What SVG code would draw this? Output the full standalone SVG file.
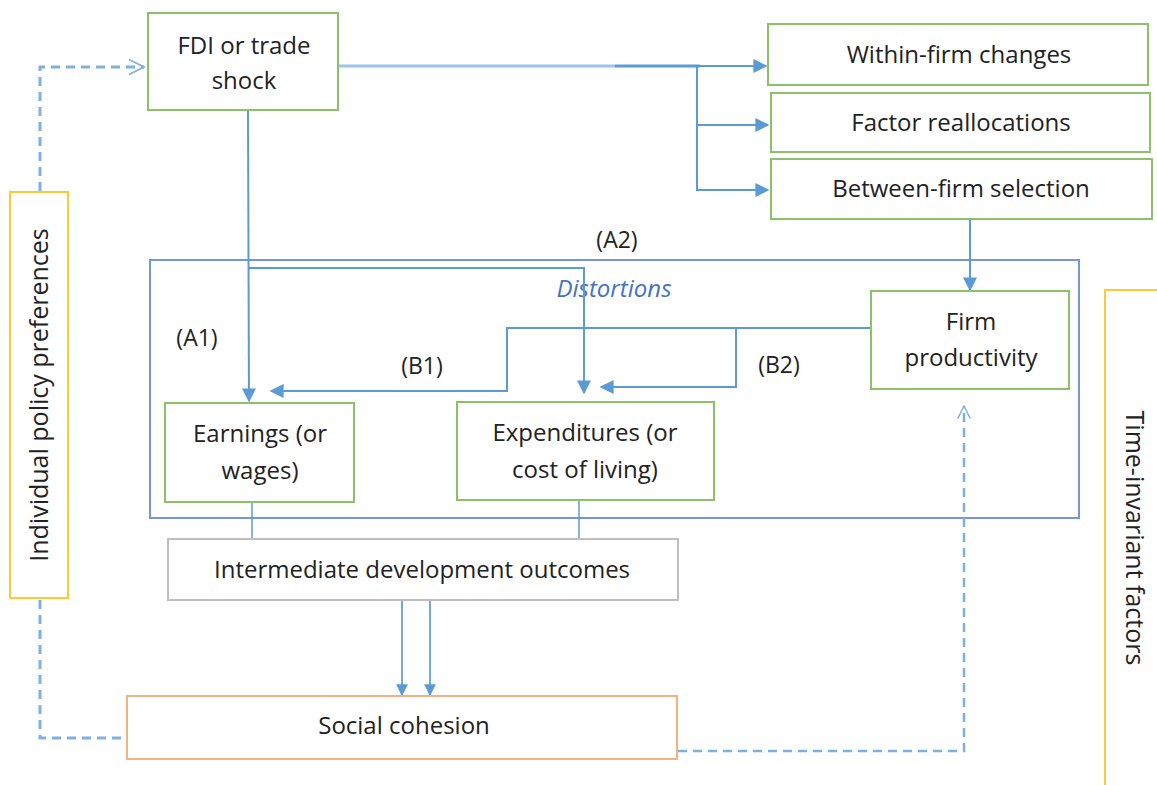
<svg xmlns="http://www.w3.org/2000/svg" width="1157" height="785" viewBox="0 0 1157 785">
<style>
.box{fill:#fff;stroke-width:2}
.g{stroke:#8CC168}
.t{font-family:"Open Sans","Liberation Sans",sans-serif;font-size:24px;fill:#222;text-anchor:middle}
.r{font-family:"Open Sans","Liberation Sans",sans-serif;font-size:25px;fill:#222;text-anchor:middle}
.lbl{font-family:"Open Sans","Liberation Sans",sans-serif;font-size:23px;fill:#222;text-anchor:middle}
.ln{fill:none;stroke:#5B9BD5;stroke-width:2}
.dash{fill:none;stroke:#7EB0E0;stroke-width:3;stroke-dasharray:9 6}
</style>
<defs>
<marker id="ah" viewBox="0 0 10 10" refX="9" refY="5" markerWidth="7" markerHeight="7" markerUnits="strokeWidth" orient="auto">
<path d="M0,0 L10,5 L0,10 z" fill="#5B9BD5"/>
</marker>
<marker id="oh" viewBox="0 0 12 12" refX="11" refY="6" markerWidth="6" markerHeight="6" markerUnits="strokeWidth" orient="auto">
<path d="M1,1 L11,6 L1,11" fill="none" stroke="#7EB0E0" stroke-width="1.2"/>
</marker>
</defs>
<rect width="1157" height="785" fill="#fff"/>

<g id="distortions">
<rect x="150" y="260" width="929" height="258" fill="none" stroke="#7596D8" stroke-width="2"/>
<text x="614" y="297" font-family="'Open Sans','Liberation Sans',sans-serif" font-size="24" font-style="italic" fill="#4472C4" text-anchor="middle">Distortions</text>
</g>

<g id="connectors">
<path class="ln" d="M338,66 H615" style="stroke:#9DC3E6;stroke-width:3"/>
<path class="ln" d="M615,66 H700" style="stroke-width:3"/>
<path class="ln" d="M700,66 H766" marker-end="url(#ah)"/>
<path class="ln" d="M697,66 V190 H768" marker-end="url(#ah)"/>
<path class="ln" d="M697,125 H768" marker-end="url(#ah)"/>
<path class="ln" d="M970,219 V290" marker-end="url(#ah)"/>
<path class="ln" d="M248,110 L249,401" marker-end="url(#ah)"/>
<path class="ln" d="M249,268 H584 V393" marker-end="url(#ah)"/>
<path class="ln" d="M871,328 H507 V391 H271" marker-end="url(#ah)"/>
<path class="ln" d="M736,328 V387 H601" marker-end="url(#ah)"/>
<path class="ln" d="M252,502 V539" style="stroke-width:1.5"/>
<path class="ln" d="M579,500 V539" style="stroke-width:1.5"/>
<path class="ln" d="M402,600 V695" style="stroke-width:1.7" marker-end="url(#ah)"/>
<path class="ln" d="M430,600 V695" style="stroke-width:1.7" marker-end="url(#ah)"/>
<path class="dash" d="M40,191 V67 H144" marker-end="url(#oh)"/>
<path class="dash" d="M40,600 V738 H125"/>
<path class="dash" d="M678,751 H964 V406" style="stroke-width:2.5" marker-end="url(#oh)"/>
</g>

<g id="fdi">
<rect class="box g" x="148" y="13" width="190" height="97"/>
<text class="t" x="244" y="54">FDI or trade</text>
<text class="t" x="244" y="89">shock</text>
</g>
<g id="within">
<rect class="box g" x="768" y="24" width="380" height="61"/>
<text class="t" x="959" y="63">Within-firm changes</text>
</g>
<g id="factor">
<rect class="box g" x="771" y="93" width="379" height="59"/>
<text class="t" x="961" y="131">Factor reallocations</text>
</g>
<g id="between">
<rect class="box g" x="771" y="159" width="381" height="60"/>
<text class="t" x="961" y="197">Between-firm selection</text>
</g>
<g id="firm">
<rect class="box g" x="871" y="291" width="198" height="98"/>
<text class="t" x="971" y="330">Firm</text>
<text class="t" x="971" y="366">productivity</text>
</g>
<g id="earnings">
<rect class="box g" x="165" y="403" width="189" height="99"/>
<text class="t" x="260" y="442">Earnings (or</text>
<text class="t" x="260" y="479">wages)</text>
</g>
<g id="expenditures">
<rect class="box g" x="457" y="402" width="257" height="98"/>
<text class="t" x="585" y="441">Expenditures (or</text>
<text class="t" x="585" y="478">cost of living)</text>
</g>
<g id="intermediate">
<rect class="box" x="168" y="539" width="510" height="61" stroke="#BFBFBF"/>
<text class="t" x="422" y="578">Intermediate development outcomes</text>
</g>
<g id="social">
<rect class="box" x="127" y="696" width="550" height="63" stroke="#F4B183"/>
<text class="t" x="404" y="734">Social cohesion</text>
</g>
<g id="individual">
<rect class="box" x="10" y="192" width="58" height="406" stroke="#FFC935"/>
<text class="r" transform="translate(48,395) rotate(-90)" x="0" y="0">Individual policy preferences</text>
</g>
<g id="timeinv">
<path d="M1158,290 H1105 V786" fill="none" stroke="#FFC935" stroke-width="2"/>
<text class="r" transform="translate(1126,538) rotate(90)" x="0" y="0">Time-invariant factors</text>
</g>
<g id="labels">
<text class="lbl" x="197" y="346">(A1)</text>
<text class="lbl" x="617" y="248">(A2)</text>
<text class="lbl" x="422" y="374">(B1)</text>
<text class="lbl" x="779" y="373">(B2)</text>
</g>
</svg>
